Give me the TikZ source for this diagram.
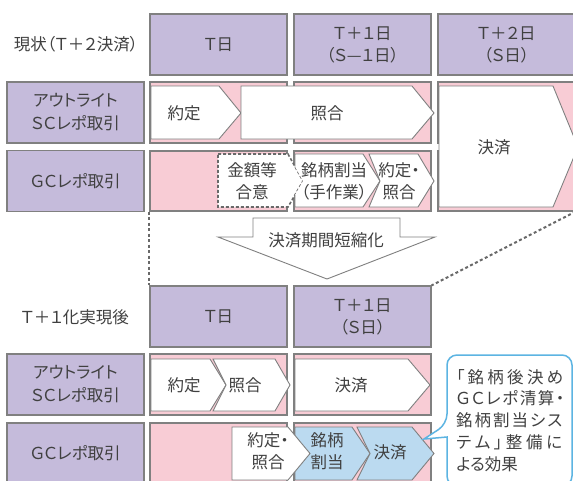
\documentclass[tikz,border=0pt]{standalone}
\usepackage{fontspec}
\setmainfont{Noto Sans CJK JP}[RawFeature=+palt]
\definecolor{hdr}{RGB}{197,187,219}
\definecolor{pinkc}{RGB}{248,204,213}
\definecolor{bluec}{RGB}{187,218,240}
\definecolor{edge}{RGB}{128,128,128}
\definecolor{dotc}{RGB}{105,105,105}
\definecolor{txt}{RGB}{64,64,64}
\definecolor{callb}{RGB}{92,180,226}
\tikzset{
  hdrbox/.style={draw=edge, fill=hdr, line width=1.2pt, minimum width=137pt, minimum height=61pt, inner sep=0pt, text=txt, align=center, font=\fontsize{16.5}{22}\selectfont},
  cellbox/.style={draw=edge, fill=pinkc, line width=1.2pt, minimum width=137pt, minimum height=61pt, inner sep=0pt},
  chev/.style={draw=edge, fill=white, line width=0.9pt, line join=miter},
  bchev/.style={draw=edge, fill=bluec, line width=0.9pt, line join=miter},
  lbl/.style={text=txt, font=\fontsize{16.5}{22}\selectfont, align=center, inner sep=0pt},
  dotline/.style={draw=dotc, line width=2pt, dash pattern=on 3pt off 2.5pt},
  callout/.style={draw=callb, line width=1.5pt, fill=white},
}
\begin{document}
\begin{tikzpicture}[x=1pt,y=-1pt]
\useasboundingbox (0,0) rectangle (573,480);
\clip (0,0) rectangle (573,480);
\fill[white] (0,0) rectangle (573,480);
% ---------- upper section ----------
\node[lbl] (title1) at (76,44) {現状（Ｔ＋２決済）};
\node[hdrbox] (hT) at (218.5,44.5) {Ｔ日};
\node[hdrbox] (hT1) at (362.5,44.5) {Ｔ＋１日\\（Ｓ—１日）};
\node[hdrbox] (hT2) at (506.5,44.5) {Ｔ＋２日\\（Ｓ日）};
\node[hdrbox, font=\fontsize{16.5}{23}\selectfont] (rSC) at (75.5,112.5) {アウトライト\\ＳＣレポ取引};
\node[hdrbox] (rGC) at (75.5,181) {ＧＣレポ取引};
\node[cellbox] (cSC1) at (218.5,112.5) {};
\node[cellbox] (cSC2) at (362.5,112.5) {};
\node[cellbox] (cSC3) at (506.5,112.5) {};
\node[cellbox, minimum height=60pt] (cGC1) at (218.5,181) {};
\node[cellbox, minimum height=60pt] (cGC2) at (362.5,181) {};
\node[cellbox, minimum height=60pt] (cGC3) at (506.5,181) {};
% SC row chevrons
\draw[chev] (151,86) -- (219,86) -- (241,113) -- (219,139) -- (151,139) -- cycle;
\draw[chev] (241,86) -- (412,86) -- (434,113) -- (412,139) -- (241,139) -- cycle;
\draw[chev] (439,86) -- (553,86) -- (578,147) -- (553,207) -- (439,207) -- cycle;
\node[lbl] (u1) at (184,113) {約定};
\node[lbl] (u2) at (327,113) {照合};
\node[lbl] (u3) at (494,147) {決済};
% GC row chevrons
\draw[chev, draw=dotc, dash pattern=on 3pt off 2pt, line width=1.6pt] (218,154) -- (288,154) -- (303,181) -- (288,207) -- (218,207) -- cycle;
\fill[white] (295,154) -- (363,154) -- (380,181) -- (363,207) -- (295,207) -- (295,195) -- (303,181) -- (295,166.6) -- cycle;
\draw[edge, line width=0.9pt, line join=miter] (295,166.6) -- (295,154) -- (363,154) -- (380,181) -- (363,207) -- (295,207) -- (295,195);
\draw[chev] (369,154) -- (418,154) -- (434,181) -- (418,207) -- (369,207) -- (380,181) -- cycle;
\node[lbl] (g1) at (252,181) {金額等\\合意};
\node[lbl] (g2) at (334,181) {銘柄割当\\（手作業）};
\node[lbl] (g3) at (399,181) {約定・\\照合};
% shortening arrow
\draw[chev] (253,218) -- (400,218) -- (400,237) -- (435,237) -- (327,279) -- (218,237) -- (253,237) -- cycle;
\node[lbl] (short) at (326,240) {決済期間短縮化};
% ---------- lower section ----------
\node[lbl] (title2) at (75,317) {Ｔ＋１化実現後};
\node[hdrbox] (lT) at (218.5,316.5) {Ｔ日};
\node[hdrbox] (lT1) at (362.5,316.5) {Ｔ＋１日\\（Ｓ日）};
\node[hdrbox, font=\fontsize{16.5}{23}\selectfont] (lrSC) at (75.5,384.5) {アウトライト\\ＳＣレポ取引};
\node[hdrbox] (lrGC) at (75.5,453.5) {ＧＣレポ取引};
\node[cellbox] (lcSC1) at (218.5,384.5) {};
\node[cellbox] (lcSC2) at (362.5,384.5) {};
\node[cellbox] (lcGC1) at (218.5,453.5) {};
\node[cellbox] (lcGC2) at (362.5,453.5) {};
% dotted connectors
\draw[dotline] (cGC1.south west) -- (lT.north west);
\draw[dotline] (cGC3.south east) -- (lT1.north east);
% SC row chevrons
\draw[chev] (151,359) -- (210,359) -- (226,385) -- (210,411) -- (151,411) -- cycle;
\draw[chev] (213,359) -- (275,359) -- (290,385) -- (275,411) -- (213,411) -- (226,385) -- cycle;
\draw[chev] (295,359) -- (408,359) -- (430,385) -- (408,411) -- (295,411) -- cycle;
\node[lbl] (l1) at (184,385) {約定};
\node[lbl] (l2) at (245,385) {照合};
\node[lbl] (l3) at (351,385) {決済};
% GC row chevrons
\draw[bchev] (295,427) -- (352,427) -- (370,453.5) -- (352,480) -- (295,480) -- cycle;
\draw[bchev] (357,427) -- (412,427) -- (434,453.5) -- (412,480) -- (357,480) -- (370,453.5) -- cycle;
\draw[chev] (232,427) -- (288,427) -- (310,453.5) -- (288,480) -- (232,480) -- cycle;
\node[lbl] (m1) at (268,451.5) {約定・\\照合};
\node[lbl] (m2) at (327,451) {銘柄\\割当};
\node[lbl] (m3) at (390,452) {決済};
% callout
\draw[callout] (447,437) [rounded corners=10pt] -- (447,486) -- (572,486) -- (572,355) -- (447,355) -- (447,424) [sharp corners] -- (424,439) -- cycle;
\node[lbl, anchor=west] (k1) at (456,377) {\makebox[107pt][s]{「\hfill 銘\hfill 柄\hfill 後\hfill 決\hfill め}};
\node[lbl, anchor=west] (k2) at (456,398.5) {\makebox[108pt][s]{Ｇ\hfill Ｃ\hfill レ\hfill ポ\hfill 清\hfill 算\hfill ・}};
\node[lbl, anchor=west] (k3) at (456,420) {\makebox[106pt][s]{銘\hfill 柄\hfill 割\hfill 当\hfill シ\hfill ス}};
\node[lbl, anchor=west] (k4) at (456,442) {\makebox[106pt][s]{テ\hfill ム\hfill 」\hfill 整\hfill 備\hfill に}};
\node[lbl, anchor=west] (k5) at (456,464) {よる効果};
\end{tikzpicture}
\end{document}
